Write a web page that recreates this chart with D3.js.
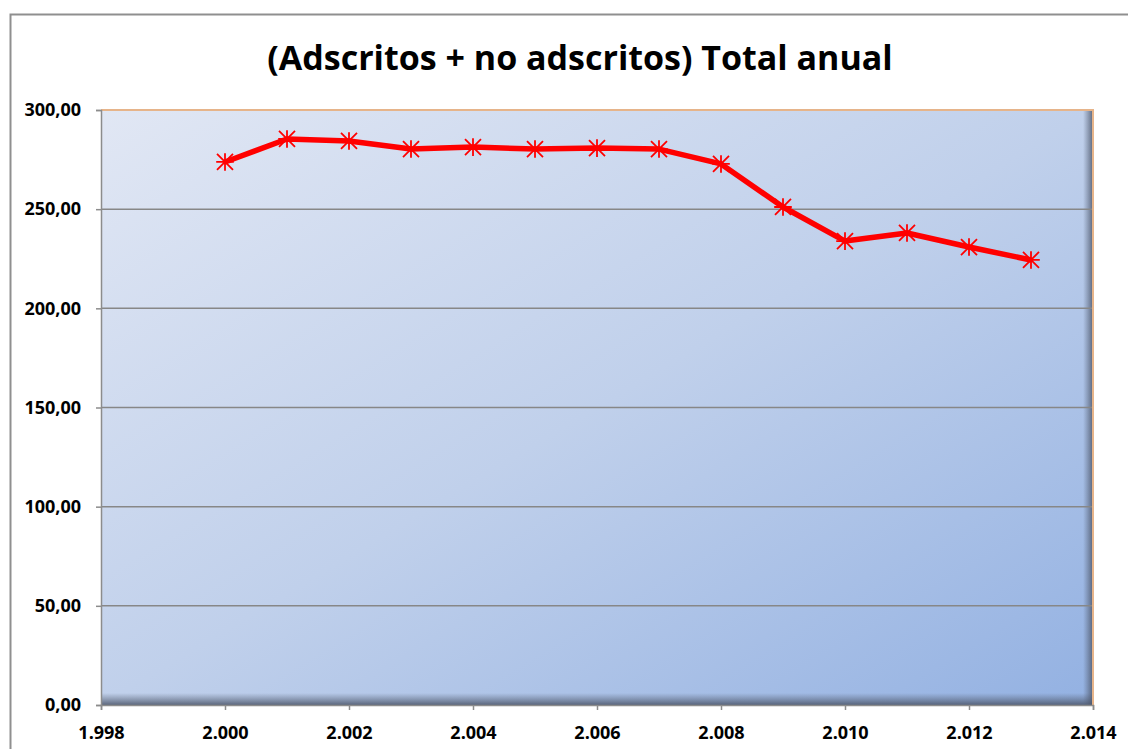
<!DOCTYPE html>
<html><head><meta charset="utf-8">
<script src="https://cdn.jsdelivr.net/npm/d3@7"></script>
<style>body{margin:0;background:#fff;}svg{display:block;}</style>
</head><body>
<script>
const years = [2000,2001,2002,2003,2004,2005,2006,2007,2008,2009,2010,2011,2012,2013];
const values = [273.8,285.4,284.4,280.3,281.3,280.3,280.8,280.3,272.8,251.1,233.9,238.0,230.9,224.4];
const xTicks = [1998,2000,2002,2004,2006,2008,2010,2012,2014];
const yTicks = [0,50,100,150,200,250,300];
const title = "(Adscritos + no adscritos) Total anual";

const W = 1128, H = 749;
const FONT = "'Open Sans', 'Liberation Sans', sans-serif";
const svg = d3.select("body").append("svg").attr("width", W).attr("height", H);
const m = {l:101, r:1093, t:110, b:705};
const x = d3.scaleLinear().domain([1998,2014]).range([m.l, m.r]);
const y = d3.scaleLinear().domain([0,300]).range([m.b, m.t]);

// chart frame
svg.append("rect").attr("x",10.5).attr("y",14.5).attr("width",W+10).attr("height",H+10)
  .attr("fill","#fff").attr("stroke","#8f8f8f").attr("stroke-width",2);

const defs = svg.append("defs");
const g1 = defs.append("linearGradient").attr("id","bg").attr("x1","0").attr("y1","0").attr("x2","1").attr("y2","1");
g1.append("stop").attr("offset","0").attr("stop-color","#e1e7f4");
g1.append("stop").attr("offset","0.5").attr("stop-color","#c0d0eb");
g1.append("stop").attr("offset","1").attr("stop-color","#93b1e2");
const gb = defs.append("linearGradient").attr("id","shb").attr("x1","0").attr("y1","0").attr("x2","0").attr("y2","1");
gb.append("stop").attr("offset","0").attr("stop-color","#5a6478").attr("stop-opacity",0);
gb.append("stop").attr("offset","1").attr("stop-color","#4a5468").attr("stop-opacity",0.85);
const gr = defs.append("linearGradient").attr("id","shr").attr("x1","0").attr("y1","0").attr("x2","1").attr("y2","0");
gr.append("stop").attr("offset","0").attr("stop-color","#5a6478").attr("stop-opacity",0);
gr.append("stop").attr("offset","1").attr("stop-color","#4a5468").attr("stop-opacity",0.85);

svg.append("rect").attr("x",m.l).attr("y",m.t).attr("width",m.r-m.l).attr("height",m.b-m.t).attr("fill","url(#bg)");
svg.append("rect").attr("x",m.l).attr("y",m.b-12).attr("width",m.r-m.l).attr("height",12).attr("fill","url(#shb)");
svg.append("rect").attr("x",m.r-10).attr("y",m.t).attr("width",10).attr("height",m.b-m.t).attr("fill","url(#shr)");

// gridlines
svg.append("g").selectAll("line").data(yTicks.filter(d=>d>0 && d<300)).join("line")
  .attr("x1",m.l).attr("x2",m.r).attr("y1",d=>y(d)).attr("y2",d=>y(d))
  .attr("stroke","#878787").attr("stroke-width",1.5);

// orange top/right border
svg.append("path").attr("d",`M${m.l},${m.t}H${m.r}V${m.b}`).attr("fill","none").attr("stroke","#e6b48a").attr("stroke-width",2);

// axes
const yAxis = d3.axisLeft(y).tickValues(yTicks).tickSize(5).tickPadding(15)
  .tickFormat(d=>d3.format(".2f")(d).replace(".",","));
const ya = svg.append("g").attr("transform",`translate(${m.l},0)`).call(yAxis);
const xAxis = d3.axisBottom(x).tickValues(xTicks).tickSize(5).tickPadding(16)
  .tickFormat(d=>d3.format(",")(d).replace(",","."));
const xa = svg.append("g").attr("transform",`translate(0,${m.b})`).call(xAxis);
[ya,xa].forEach(a=>{
  a.selectAll(".domain").attr("stroke","#8c8c8c").attr("stroke-width",1.5);
  a.selectAll(".tick line").attr("stroke","#8c8c8c").attr("stroke-width",1.5);
  a.selectAll("text").attr("font-family",FONT)
    .attr("font-weight","bold").attr("font-size",18).attr("fill","#000");
});

// line
const line = d3.line().x((d,i)=>x(years[i])).y(d=>y(d));
svg.append("path").datum(values).attr("d",line).attr("fill","none")
  .attr("stroke","#ff0000").attr("stroke-width",5.5).attr("stroke-linejoin","round");

// star markers
const s = 8;
const star = `M${-s},${-s}L${s},${s}M${-s},${s}L${s},${-s}M0,${-s*1.1}V${s*1.1}M${-s*1.1},0H${s*1.1}`;
svg.append("g").selectAll("path").data(values).join("path")
  .attr("transform",(d,i)=>`translate(${x(years[i])},${y(d)})`)
  .attr("d",star).attr("stroke","#ff0000").attr("stroke-width",1.8).attr("fill","none");

// title
svg.append("text").attr("x",580).attr("y",70).attr("text-anchor","middle")
  .attr("font-family",FONT).attr("font-weight","bold")
  .attr("font-size",34).attr("fill","#000").text(title);
</script>
</body></html>
